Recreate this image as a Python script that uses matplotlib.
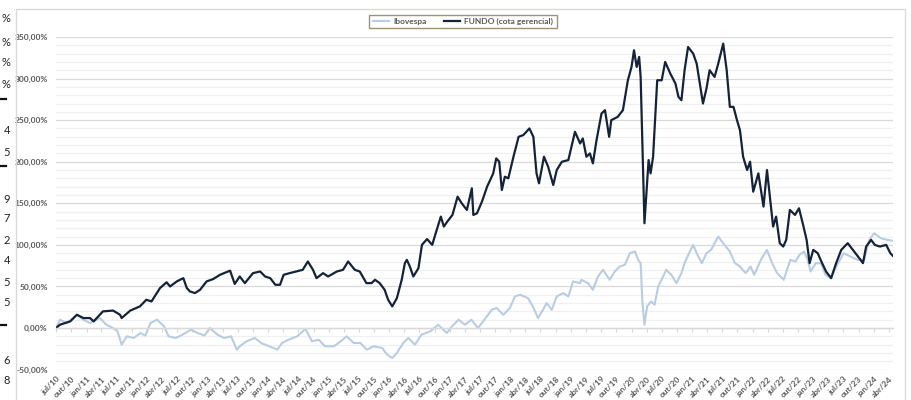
"""Recreate the Excel-style line chart: FUNDO (cota gerencial) vs Ibovespa."""

import matplotlib
matplotlib.use("Agg")

import matplotlib.pyplot as plt
import pandas as pd
from matplotlib.lines import Line2D
from matplotlib.patches import Rectangle
from matplotlib.ticker import FuncFormatter, MultipleLocator

# accumulated return (%)
fundo_dates = [
    "2010-07-01", "2010-07-25", "2010-09-25", "2010-11-04", "2010-12-13", "2011-01-22", "2011-02-13",
    "2011-03-22", "2011-04-10", "2011-06-10", "2011-07-22", "2011-08-01", "2011-09-22", "2011-11-19",
    "2011-12-28", "2012-01-28", "2012-03-19", "2012-04-28", "2012-05-19", "2012-06-28", "2012-08-07",
    "2012-08-28", "2012-09-16", "2012-10-16", "2012-11-16", "2012-12-25", "2013-02-04", "2013-03-16",
    "2013-05-16", "2013-06-13", "2013-07-13", "2013-08-13", "2013-10-01", "2013-11-13", "2013-12-13",
    "2014-01-13", "2014-02-13", "2014-03-13", "2014-04-04", "2014-05-10", "2014-06-19", "2014-07-28",
    "2014-08-28", "2014-09-28", "2014-10-19", "2014-11-28", "2014-12-28", "2015-02-19", "2015-03-28",
    "2015-04-28", "2015-06-07", "2015-07-07", "2015-08-16", "2015-09-16", "2015-10-07", "2015-11-04",
    "2015-12-04", "2015-12-25", "2016-01-19", "2016-02-16", "2016-03-16", "2016-04-04", "2016-04-16",
    "2016-05-04", "2016-05-25", "2016-06-25", "2016-07-16", "2016-08-16", "2016-09-16", "2016-10-07",
    "2016-11-07", "2016-11-25", "2016-12-16", "2017-01-16", "2017-02-16", "2017-03-13", "2017-04-13",
    "2017-05-13", "2017-05-22", "2017-06-13", "2017-07-13", "2017-08-13", "2017-09-19", "2017-10-07",
    "2017-10-25", "2017-11-10", "2017-11-28", "2017-12-19", "2018-01-19", "2018-02-19", "2018-03-19",
    "2018-04-25", "2018-05-19", "2018-06-07", "2018-06-22", "2018-07-22", "2018-08-16", "2018-09-16",
    "2018-10-07", "2018-11-07", "2018-12-16", "2019-01-25", "2019-02-25", "2019-03-13", "2019-04-04",
    "2019-04-25", "2019-05-13", "2019-06-04", "2019-07-04", "2019-07-25", "2019-08-19", "2019-09-01",
    "2019-10-10", "2019-11-10", "2019-12-10", "2020-01-01", "2020-01-16", "2020-02-01", "2020-02-16",
    "2020-02-25", "2020-03-07", "2020-03-13", "2020-03-19", "2020-04-01", "2020-04-13", "2020-04-25",
    "2020-05-10", "2020-06-04", "2020-07-01", "2020-07-22", "2020-08-22", "2020-09-22", "2020-10-10",
    "2020-10-28", "2020-11-16", "2020-12-07", "2021-01-07", "2021-01-28", "2021-02-16", "2021-03-07",
    "2021-03-28", "2021-04-16", "2021-05-16", "2021-06-07", "2021-07-07", "2021-07-28", "2021-08-16",
    "2021-09-07", "2021-09-28", "2021-10-16", "2021-11-04", "2021-11-28", "2021-12-16", "2022-01-04",
    "2022-02-04", "2022-03-07", "2022-03-28", "2022-05-04", "2022-05-22", "2022-06-13", "2022-07-04",
    "2022-07-22", "2022-08-13", "2022-09-13", "2022-10-07", "2022-11-01", "2022-11-22", "2022-12-10",
    "2023-01-01", "2023-01-28", "2023-02-19", "2023-03-19", "2023-04-19", "2023-05-19", "2023-06-19",
    "2023-07-28", "2023-08-28", "2023-09-28", "2023-10-28", "2023-11-16", "2023-12-16", "2024-01-07",
    "2024-02-07", "2024-03-16", "2024-04-10", "2024-04-24",
]
fundo_vals = [
    0, 4, 8, 16, 12, 12, 8,
    16, 20, 21, 16, 12, 21, 26,
    34, 32, 48, 55, 50, 56, 60,
    48, 44, 42, 46, 56, 59, 64,
    69, 53, 62, 54, 66, 68, 62,
    60, 52, 52, 64, 66, 68, 70,
    80, 70, 60, 66, 62, 68, 70,
    80, 70, 68, 54, 54, 58, 54,
    46, 34, 26, 36, 58, 78, 82,
    74, 62, 72, 100, 107, 100, 114,
    134, 122, 128, 136, 158, 150, 142,
    168, 136, 138, 152, 170, 186, 204,
    200, 166, 182, 180, 206, 230, 232,
    240, 230, 186, 174, 206, 194, 172,
    190, 200, 202, 236, 222, 228, 206,
    210, 198, 226, 258, 262, 230, 250,
    254, 262, 298, 314, 334, 314, 326,
    302, 218, 174, 126, 166, 202, 186,
    206, 298, 298, 320, 306, 294, 278,
    274, 310, 338, 330, 318, 294, 270,
    288, 310, 302, 318, 342, 310, 266,
    266, 250, 238, 206, 190, 200, 164,
    186, 146, 190, 122, 134, 102, 98,
    106, 142, 136, 144, 124, 106, 78,
    94, 90, 80, 68, 60, 78, 94,
    102, 94, 86, 78, 98, 106, 100,
    98, 100, 90, 87,
]

ibov_dates = [
    "2010-07-01", "2010-07-25", "2010-09-04", "2010-10-13", "2010-11-04", "2010-12-13", "2011-01-22",
    "2011-03-01", "2011-03-22", "2011-05-01", "2011-06-10", "2011-07-07", "2011-08-01", "2011-09-01",
    "2011-10-13", "2011-11-22", "2011-12-22", "2012-01-22", "2012-03-01", "2012-04-13", "2012-05-10",
    "2012-06-22", "2012-08-01", "2012-09-22", "2012-11-01", "2012-12-13", "2013-01-13", "2013-03-01",
    "2013-04-10", "2013-05-22", "2013-06-25", "2013-07-13", "2013-08-22", "2013-10-13", "2013-11-19",
    "2014-01-07", "2014-02-25", "2014-03-25", "2014-05-04", "2014-06-25", "2014-08-13", "2014-09-22",
    "2014-11-01", "2014-12-10", "2015-02-01", "2015-03-01", "2015-04-19", "2015-06-01", "2015-07-10",
    "2015-08-19", "2015-09-28", "2015-11-19", "2015-12-19", "2016-01-19", "2016-02-16", "2016-03-25",
    "2016-04-25", "2016-06-04", "2016-07-13", "2016-09-04", "2016-10-22", "2016-12-13", "2017-01-13",
    "2017-02-22", "2017-04-01", "2017-05-10", "2017-06-19", "2017-07-28", "2017-09-10", "2017-10-10",
    "2017-11-19", "2017-12-28", "2018-01-28", "2018-02-28", "2018-04-16", "2018-05-16", "2018-06-16",
    "2018-07-16", "2018-08-07", "2018-09-07", "2018-10-07", "2018-11-16", "2018-12-16", "2019-01-13",
    "2019-02-25", "2019-03-04", "2019-04-13", "2019-05-13", "2019-06-13", "2019-07-13", "2019-08-22",
    "2019-09-22", "2019-10-22", "2019-11-22", "2019-12-22", "2020-01-22", "2020-02-10", "2020-02-25",
    "2020-03-07", "2020-03-19", "2020-04-04", "2020-04-28", "2020-05-19", "2020-06-10", "2020-07-10",
    "2020-07-28", "2020-08-28", "2020-09-28", "2020-10-28", "2020-11-16", "2020-12-13", "2021-01-07",
    "2021-01-28", "2021-02-28", "2021-03-28", "2021-04-25", "2021-06-07", "2021-07-07", "2021-08-16",
    "2021-09-16", "2021-10-16", "2021-11-19", "2021-12-19", "2022-01-10", "2022-02-19", "2022-03-28",
    "2022-04-28", "2022-05-28", "2022-07-07", "2022-08-16", "2022-09-16", "2022-10-10", "2022-11-07",
    "2022-11-28", "2022-12-16", "2023-01-16", "2023-02-16", "2023-03-16", "2023-04-16", "2023-05-25",
    "2023-07-04", "2023-08-13", "2023-09-25", "2023-11-04", "2023-12-04", "2024-01-04", "2024-02-13",
    "2024-03-22", "2024-04-24",
]
ibov_vals = [
    0, 10, 6, 12, 16, 10, 6,
    10, 12, 4, 0, -4, -20, -10,
    -12, -6, -9, 6, 10, 2, -10,
    -12, -8, -2, -6, -9, 0, -8,
    -12, -10, -26, -22, -16, -12, -18,
    -22, -26, -18, -14, -10, -1, -16,
    -14, -22, -22, -18, -10, -18, -18,
    -26, -22, -24, -32, -36, -30, -18,
    -12, -20, -8, -4, 4, -6, 2,
    10, 4, 10, 0, 10, 22, 24,
    16, 24, 38, 40, 36, 26, 12,
    22, 30, 22, 38, 42, 38, 56,
    54, 58, 54, 46, 62, 70, 58,
    68, 74, 76, 90, 92, 82, 78,
    30, 4, 26, 32, 28, 50, 62,
    70, 64, 54, 66, 78, 90, 100,
    90, 78, 90, 94, 110, 102, 92,
    78, 74, 66, 74, 64, 82, 94,
    78, 66, 58, 82, 80, 88, 92,
    82, 68, 78, 78, 64, 60, 76,
    90, 86, 82, 82, 106, 114, 108,
    106, 105,
]

series_names = ["Ibovespa", "FUNDO (cota gerencial)"]
month_abbr = {1: "jan", 4: "abr", 7: "jul", 10: "out"}
tick_dates = pd.date_range("2010-07-01", "2024-04-01", freq="QS")

# fragments of the neighbouring sheet cells at the left border
side_chars = ["%", "%", "%", "%", "4", "5", "9", "7", "2", "4", "5", "5", "6", "8"]
side_rows = [18, 42, 62, 85, 130, 152, 199, 219, 240, 260, 282, 303, 360, 380]
side_rules = [99, 166, 325]


def main() -> None:
    plt.rcParams["font.family"] = ["Lato", "DejaVu Sans"]

    fig = plt.figure(figsize=(9.12, 4.0), dpi=100)
    W, H = 912, 400
    ax = fig.add_axes([56 / W, 1 - 369.6 / H, (893 - 56) / W, (369.6 - 37) / H])

    ibov_color = "#b8cce4"
    fundo_color = "#14223a"
    ax.plot(pd.to_datetime(ibov_dates), ibov_vals, color=ibov_color, lw=1.5, solid_joinstyle="round")
    ax.plot(pd.to_datetime(fundo_dates), fundo_vals, color=fundo_color, lw=1.6, solid_joinstyle="round")

    ax.set_ylim(-50, 350)
    ax.set_xlim(pd.Timestamp("2010-07-01"), pd.Timestamp("2024-04-26"))
    ax.yaxis.set_major_locator(MultipleLocator(50))
    ax.yaxis.set_minor_locator(MultipleLocator(10))
    ax.yaxis.set_major_formatter(FuncFormatter(lambda v, _: f"{v:.2f}".replace(".", ",") + "%"))
    ax.grid(which="major", axis="y", color="#d9d9d9", lw=0.9, zorder=0)
    ax.grid(which="minor", axis="y", color="#f0f0f0", lw=0.9, zorder=0)
    ax.set_axisbelow(True)

    for side in ["top", "right", "left"]:
        ax.spines[side].set_visible(False)
    ax.spines["bottom"].set_position(("data", 0))
    ax.spines["bottom"].set_color("#d9d9d9")
    ax.spines["bottom"].set_linewidth(1.0)
    ax.tick_params(axis="x", length=3, width=0.8, color="#d9d9d9", pad=31,
                   labelsize=6, labelcolor="#595959")
    ax.tick_params(axis="y", which="both", length=0, pad=6, labelsize=6, labelcolor="#595959")

    ax.set_xticks(tick_dates)
    ax.set_xticklabels([f"{month_abbr[d.month]}/{d.year % 100:02d}" for d in tick_dates],
                       rotation=45, ha="right", va="top", rotation_mode="anchor",
                       fontweight="bold", fontsize=6, color="#595959")
    for lab in ax.get_yticklabels():
        lab.set_fontweight("bold")

    handles = [
        Line2D([], [], color=ibov_color, lw=1.5),
        Line2D([], [], color=fundo_color, lw=1.6),
    ]
    leg = fig.legend(handles, series_names, loc="center", bbox_to_anchor=(463 / W, 1 - 21.5 / H),
                     ncol=2, frameon=True, fancybox=False, handlelength=2.0,
                     columnspacing=2.0, handletextpad=0.5, borderpad=0.4, labelcolor="#595959",
                     prop={"weight": "bold", "size": 6})
    leg.get_frame().set_edgecolor("#8a7650")
    leg.get_frame().set_linewidth(1.0)

    # chart area border
    fig.add_artist(Rectangle((16 / W, -0.02), (905 - 16) / W, 1.02 - 9 / H, transform=fig.transFigure,
                             fill=False, ec="#d9d9d9", lw=1.0))

    for ch, yy in zip(side_chars, side_rows):
        fig.text(10 / W, 1 - yy / H, ch, ha="right", va="center", fontsize=8, color="#222222")
    for yy in side_rules:
        fig.add_artist(Line2D([0, 6 / W], [1 - yy / H, 1 - yy / H], transform=fig.transFigure,
                              color="#111111", lw=1.6))

    fig.savefig("out.png", dpi=100)


if __name__ == "__main__":
    main()
